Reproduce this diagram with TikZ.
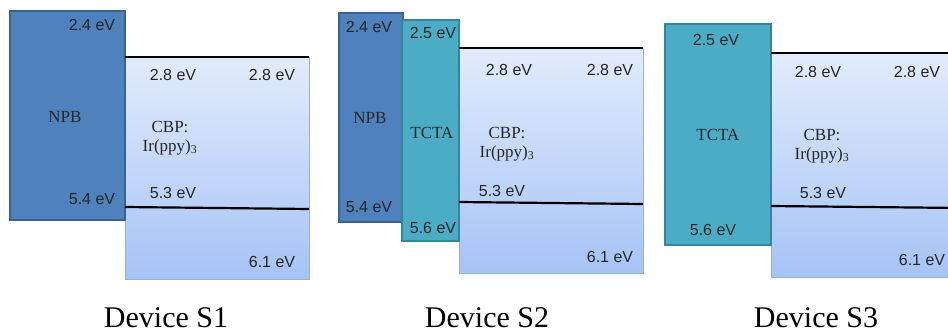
\documentclass[tikz,border=0pt]{standalone}
\usepackage{fontspec}
\setmainfont{Liberation Serif}
\newfontfamily\arialf{Liberation Sans}
\definecolor{npbfill}{HTML}{4F81BD}
\definecolor{npbline}{HTML}{3A6290}
\definecolor{tctafill}{HTML}{4BACC6}
\definecolor{tctaline}{HTML}{35869C}
\definecolor{cbptop}{HTML}{E2EBFB}
\definecolor{cbpbot}{HTML}{A6C3F5}
\definecolor{cbpline}{HTML}{95B3D7}
\tikzset{
  layerbox/.style={rectangle, inner sep=0pt, outer sep=0pt, anchor=north west, line width=1.2pt},
  npbbox/.style={layerbox, fill=npbfill, draw=npbline},
  tctabox/.style={layerbox, fill=tctafill, draw=tctaline},
  cbpbox/.style={layerbox, top color=cbptop, bottom color=cbpbot, draw=cbpline, line width=0.8pt},
  level/.style={line width=2.2pt, black},
  ev/.style={font=\arialf\fontsize{16}{18}\selectfont, inner sep=0pt, text=black!85},
  mat/.style={font=\fontsize{17}{19}\selectfont, inner sep=0pt, align=center, text=black!85},
  dev/.style={font=\fontsize{30}{32}\selectfont, inner sep=0pt, anchor=base},
}
\begin{document}
\begin{tikzpicture}[x=1pt,y=-1pt]
\useasboundingbox (0,0) rectangle (948,334);
\clip (0,0) rectangle (948,334);
% ---------- Device S1 ----------
\node[cbpbox, minimum width=184pt, minimum height=222pt] (cbp1) at (125,57) {};
\node[npbbox, minimum width=115pt, minimum height=209pt] (npb1) at (10,11) {};
\coordinate (m1l) at (125,207);
\coordinate (m1r) at (309,209);
\draw[level] (cbp1.north west) -- (cbp1.north east);
\draw[level] (m1l) -- (m1r);
\node[ev] (s1a) at (92,25) {2.4 eV};
\node[ev] (s1b) at (92,199) {5.4 eV};
\node[mat] (s1npb) at (65,117) {NPB};
\node[ev] (s1c) at (173,75) {2.8 eV};
\node[ev] (s1d) at (272,75) {2.8 eV};
\node[mat] (s1cbp) at (170,138) {CBP:\\Ir(ppy)\textsubscript{3}};
\node[ev] (s1e) at (173,193) {5.3 eV};
\node[ev] (s1f) at (272,262) {6.1 eV};
\node[dev] (d1) at (166,327) {Device S1};
% ---------- Device S2 ----------
\node[cbpbox, minimum width=184pt, minimum height=225pt] (cbp2) at (459,48) {};
\node[npbbox, minimum width=64pt, minimum height=209pt] (npb2) at (339,13) {};
\node[tctabox, minimum width=57pt, minimum height=221pt] (tcta2) at (402,20) {};
\coordinate (m2l) at (459,202);
\coordinate (m2r) at (643,204);
\draw[level] (cbp2.north west) -- (cbp2.north east);
\draw[level] (m2l) -- (m2r);
\node[ev] (s2a) at (369,27) {2.4 eV};
\node[ev] (s2b) at (369,207) {5.4 eV};
\node[mat] (s2npb) at (370,118) {NPB};
\node[ev] (s2c) at (433,33) {2.5 eV};
\node[ev] (s2d) at (433,228) {5.6 eV};
\node[mat] (s2tcta) at (432,133) {TCTA};
\node[ev] (s2e) at (509,70) {2.8 eV};
\node[ev] (s2f) at (610,70) {2.8 eV};
\node[mat] (s2cbp) at (507,144) {CBP:\\Ir(ppy)\textsubscript{3}};
\node[ev] (s2g) at (502,191) {5.3 eV};
\node[ev] (s2h) at (610,257) {6.1 eV};
\node[dev] (d2) at (487,327) {Device S2};
% ---------- Device S3 ----------
\node[cbpbox, minimum width=190pt, minimum height=224pt] (cbp3) at (771,53) {};
\node[tctabox, minimum width=106pt, minimum height=221pt] (tcta3) at (665,24) {};
\coordinate (m3l) at (771,206);
\coordinate (m3r) at (961,208);
\draw[level] (cbp3.north west) -- (cbp3.north east);
\draw[level] (m3l) -- (m3r);
\node[ev] (s3a) at (716,40) {2.5 eV};
\node[ev] (s3b) at (713,230) {5.6 eV};
\node[mat] (s3tcta) at (718,135) {TCTA};
\node[ev] (s3c) at (818,72) {2.8 eV};
\node[ev] (s3d) at (917,72) {2.8 eV};
\node[mat] (s3cbp) at (822,146) {CBP:\\Ir(ppy)\textsubscript{3}};
\node[ev] (s3e) at (823,193) {5.3 eV};
\node[ev] (s3f) at (922,260) {6.1 eV};
\node[dev] (d3) at (816,327) {Device S3};
\end{tikzpicture}
\end{document}
